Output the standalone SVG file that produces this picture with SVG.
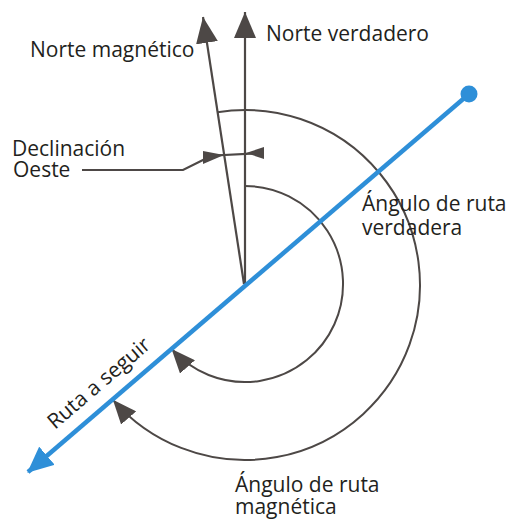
<svg xmlns="http://www.w3.org/2000/svg" width="510" height="520" viewBox="0 0 510 520">
<style>
.lbl{font-family:"Open Sans","Liberation Sans",sans-serif;font-size:21px;fill:#231f20}
.ln{fill:none;stroke:#4d4846;stroke-width:2.2}
.arc{fill:none;stroke:#4d4846;stroke-width:2}
.head{fill:#4d4846}
</style>
<defs>
<marker id="ah" markerUnits="userSpaceOnUse" viewBox="0 0 26 22" refX="26" refY="11" markerWidth="26" markerHeight="22" orient="auto">
<path d="M0,0 L26,11 L0,22 z" fill="#4d4846"/>
</marker>
<marker id="ahArc" markerUnits="userSpaceOnUse" viewBox="0 0 24 20" refX="24" refY="10" markerWidth="24" markerHeight="20" orient="auto">
<path d="M0,0 L24,10 L0,20 z" fill="#4d4846"/>
</marker>
<marker id="ahBlue" markerUnits="userSpaceOnUse" viewBox="0 0 26 24" refX="25" refY="12" markerWidth="26" markerHeight="24" orient="auto">
<path d="M0,0 L26,12 L0,24 z" fill="#2e8fd8"/>
</marker>
</defs>
<rect width="510" height="520" fill="#ffffff"/>
<g id="connectors">
<line id="norte-verdadero-line" class="ln" x1="245" y1="284" x2="245" y2="12" marker-end="url(#ah)"/>
<line id="norte-magnetico-line" class="ln" x1="244" y1="284" x2="203" y2="17" marker-end="url(#ah)"/>
<path id="arc-verdadera" class="arc" d="M245,186 A98,98 0 1 1 171.6,348.9" marker-end="url(#ahArc)"/>
<path id="arc-magnetica" class="arc" d="M217.3,112.2 A175,175 0 1 1 112.9,399.8" marker-end="url(#ahArc)"/>
<line id="ruta" x1="469" y1="94" x2="28" y2="472" stroke="#2e8fd8" stroke-width="4.5" marker-end="url(#ahBlue)"/>
<circle cx="469" cy="94" r="8.5" fill="#2e8fd8"/>
<g id="declinacion-marks">
<line class="ln" x1="205" y1="156" x2="262" y2="153"/>
<polygon class="head" points="203,151 203,164 224,155"/>
<polygon class="head" points="264,147 264,159 246,153"/>
<polyline class="ln" points="82,170 183,170 205,159"/>
</g>
</g>
<g id="label-norte-magnetico"><text class="lbl" x="30" y="57">Norte magnético</text></g>
<g id="label-norte-verdadero"><text class="lbl" x="266" y="41">Norte verdadero</text></g>
<g id="label-declinacion"><text class="lbl" x="12" y="156">Declinación</text><text class="lbl" x="13" y="177">Oeste</text></g>
<g id="label-angulo-verdadera"><text class="lbl" x="362" y="211">Ángulo de ruta</text><text class="lbl" x="362" y="235">verdadera</text></g>
<g id="label-angulo-magnetica"><text class="lbl" x="235" y="492">Ángulo de ruta</text><text class="lbl" x="235" y="514">magnética</text></g>
<g id="label-ruta"><text class="lbl" transform="translate(55,430) rotate(-40.6)">Ruta a seguir</text></g>
</svg>
